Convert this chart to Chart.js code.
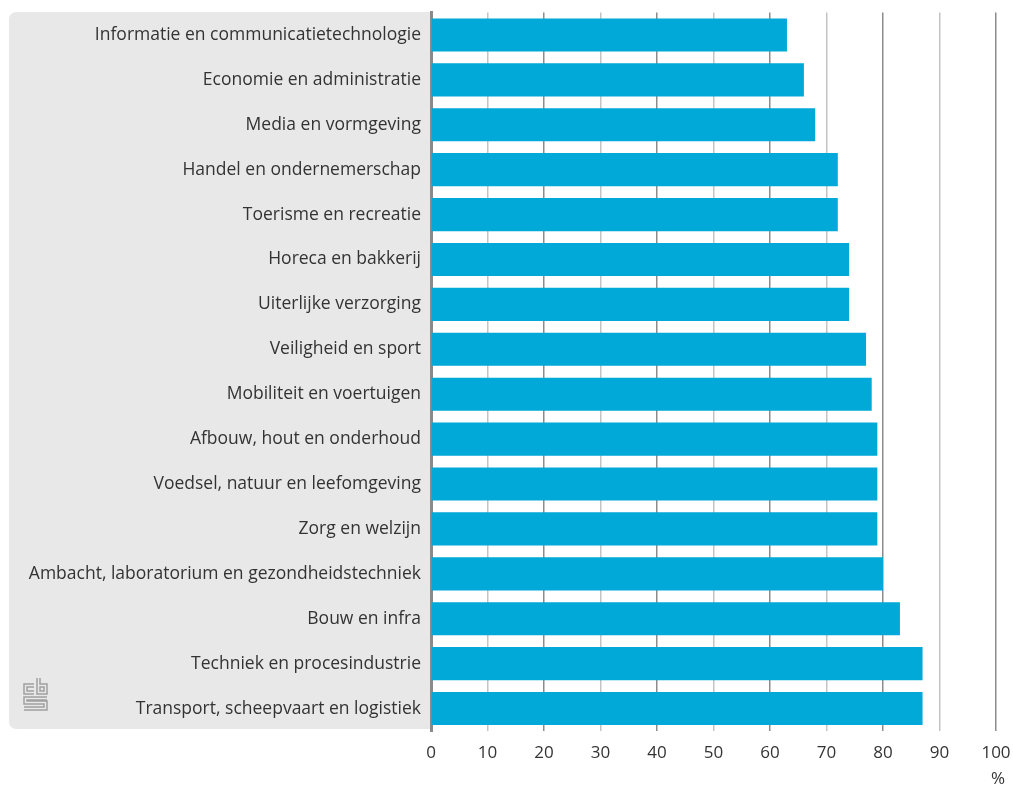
<!DOCTYPE html>
<html>
<head>
<meta charset="utf-8">
<script src="https://cdn.jsdelivr.net/npm/chart.js@4"></script>
<style>
  html, body { margin: 0; padding: 0; background: #fff; }
  #wrap { width: 1013px; height: 787px; }
</style>
</head>
<body>
<div id="wrap"><canvas id="myChart" width="1013" height="787"></canvas></div>
<script>
const categories = [
    'Informatie en communicatietechnologie',
    'Economie en administratie',
    'Media en vormgeving',
    'Handel en ondernemerschap',
    'Toerisme en recreatie',
    'Horeca en bakkerij',
    'Uiterlijke verzorging',
    'Veiligheid en sport',
    'Mobiliteit en voertuigen',
    'Afbouw, hout en onderhoud',
    'Voedsel, natuur en leefomgeving',
    'Zorg en welzijn',
    'Ambacht, laboratorium en gezondheidstechniek',
    'Bouw en infra',
    'Techniek en procesindustrie',
    'Transport, scheepvaart en logistiek'
];
const values = [63, 66, 68, 72, 72, 74, 74, 77, 78, 79, 79, 79, 80, 83, 87, 87];
const xTicks = [0, 10, 20, 30, 40, 50, 60, 70, 80, 90, 100];
const unitLabel = '%';

const FONT = "'Open Sans', 'Noto Sans', sans-serif";

// grey panel behind the category labels, the small logo and the unit
const panelPlugin = {
    id: 'panel',
    beforeDraw(chart) {
        const ctx = chart.ctx;
        const area = chart.chartArea;
        const x0 = 9, y0 = 12, x1 = area.left, y1 = 729, r = 8;
        ctx.save();
        ctx.fillStyle = '#e8e8e8';
        ctx.beginPath();
        ctx.moveTo(x0 + r, y0);
        ctx.lineTo(x1, y0);
        ctx.lineTo(x1, y1);
        ctx.lineTo(x0 + r, y1);
        ctx.quadraticCurveTo(x0, y1, x0, y1 - r);
        ctx.lineTo(x0, y0 + r);
        ctx.quadraticCurveTo(x0, y0, x0 + r, y0);
        ctx.fill();

        // cbs logo
        ctx.strokeStyle = '#a0a0a0';
        ctx.lineWidth = 1.5;
        ctx.beginPath();
        // c
        ctx.moveTo(34, 684); ctx.lineTo(24, 684); ctx.lineTo(24, 694); ctx.lineTo(34, 694);
        ctx.moveTo(34, 687); ctx.lineTo(27, 687); ctx.lineTo(27, 691); ctx.lineTo(34, 691);
        // b
        ctx.moveTo(37, 678); ctx.lineTo(37, 694); ctx.lineTo(47, 694); ctx.lineTo(47, 684); ctx.lineTo(40, 684); ctx.lineTo(40, 678);
        ctx.moveTo(40, 687); ctx.lineTo(44, 687); ctx.lineTo(44, 691); ctx.lineTo(40, 691); ctx.closePath();
        // s
        ctx.moveTo(47, 697); ctx.lineTo(24, 697); ctx.lineTo(24, 704); ctx.lineTo(44, 704); ctx.lineTo(44, 707); ctx.lineTo(24, 707);
        ctx.moveTo(47, 700); ctx.lineTo(27, 700); ctx.lineTo(27, 701); ctx.lineTo(47, 701); ctx.lineTo(47, 710); ctx.lineTo(24, 710);
        ctx.stroke();
        ctx.restore();
    },
    afterDraw(chart) {
        const ctx = chart.ctx;
        const xs = chart.scales.x;
        ctx.save();
        ctx.fillStyle = '#333';
        ctx.font = '17px ' + FONT;
        ctx.textAlign = 'center';
        ctx.textBaseline = 'middle';
        ctx.fillText(unitLabel, xs.getPixelForValue(100) + 2, 779);
        ctx.restore();
    }
};

new Chart(document.getElementById('myChart'), {
    type: 'bar',
    data: {
        labels: categories,
        datasets: [{
            data: values,
            backgroundColor: '#00a9d8',
            borderWidth: 0,
            categoryPercentage: 1,
            barPercentage: 0.737
        }]
    },
    options: {
        indexAxis: 'y',
        responsive: false,
        animation: false,
        layout: { padding: { top: 11, right: 17, left: 0, bottom: 0 } },
        plugins: {
            legend: { display: false },
            tooltip: { enabled: false }
        },
        scales: {
            x: {
                min: 0,
                max: 100,
                afterFit(scale) {
                    scale.height = 56;
                    scale.paddingLeft = 0;
                    scale.paddingRight = 0;
                },
                afterBuildTicks(scale) {
                    scale.ticks = xTicks.map(v => ({ value: v }));
                },
                grid: {
                    drawTicks: false,
                    lineWidth: 1.5,
                    color: ctx => (ctx.tick && ctx.tick.value % 20 === 0) ? '#8c8c8c' : '#c4c4c4'
                },
                border: { display: false },
                ticks: {
                    padding: 12,
                    color: '#333',
                    font: { family: FONT, size: 17 }
                }
            },
            y: {
                afterFit(scale) { scale.width = 431; },
                grid: { display: false },
                border: { display: true, color: '#8a8a8a', width: 3 },
                ticks: {
                    padding: 2,
                    color: '#333',
                    font: { family: FONT, size: 17.5 }
                }
            }
        }
    },
    plugins: [panelPlugin]
});
</script>
</body>
</html>
